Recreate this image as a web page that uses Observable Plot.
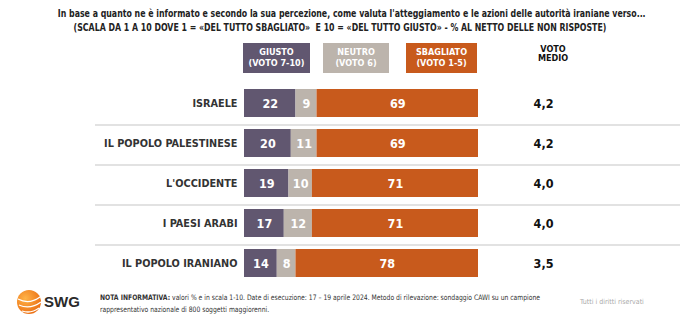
<!DOCTYPE html>
<html><head><meta charset="utf-8">
<script src="https://cdn.jsdelivr.net/npm/d3@7"></script>
<script src="https://cdn.jsdelivr.net/npm/@observablehq/plot@0.6"></script>
<style>
body{margin:0;width:680px;height:322px;background:#fff;position:relative;overflow:hidden;font-family:"DejaVu Sans Condensed","Liberation Sans",sans-serif;}
.title{position:absolute;left:0;width:680px;text-align:center;font-weight:bold;font-size:10.5px;color:#222;line-height:13px;white-space:nowrap;transform:scaleX(0.83);transform-origin:340px 0;}
.hbox{position:absolute;top:43px;height:30px;color:#fff;font-weight:bold;font-size:9px;line-height:11px;text-align:center;display:flex;align-items:center;justify-content:center;}
#chart{position:absolute;left:0;top:76px;}
.medio{position:absolute;left:520px;width:66px;top:45px;text-align:center;font-weight:bold;font-size:9px;line-height:8.5px;color:#111;}
.nota{position:absolute;left:100px;top:292px;font-size:7.5px;line-height:11.5px;color:#333;white-space:nowrap;transform:scaleX(0.9);transform-origin:0 0;}
.rights{position:absolute;left:580px;top:298px;font-size:7px;color:#aaa;}
.swg{position:absolute;left:44px;top:293px;font-weight:bold;font-size:15px;color:#2a2a2a;font-family:"Liberation Sans",sans-serif;}
</style></head>
<body>
<div class="title" style="top:7px">In base a quanto ne è informato e secondo la sua percezione, come valuta l'atteggiamento e le azioni delle autorità iraniane verso...</div>
<div class="title" style="top:21px">(SCALA DA 1 A 10 DOVE 1 = «DEL TUTTO SBAGLIATO»&nbsp; E 10 = «DEL TUTTO GIUSTO» - % AL NETTO DELLE NON RISPOSTE)</div>
<div id="legend"></div>
<div class="medio">VOTO<br>MEDIO</div>
<div id="chart"></div>
<svg style="position:absolute;left:16px;top:289px" width="26" height="26" viewBox="0 0 26 26">
<defs><radialGradient id="g" cx="0.35" cy="0.35" r="0.8"><stop offset="0" stop-color="#ffb347"/><stop offset="1" stop-color="#e8650c"/></radialGradient></defs>
<circle cx="13" cy="13" r="12" fill="url(#g)"/>
<path d="M2 10 Q13 16 24 8 M3 16 Q14 21 25 13 M6 22 Q15 25 23 19" stroke="#fff" stroke-width="1.3" fill="none"/>
</svg>
<div class="swg">SWG</div>
<div class="nota"><b>NOTA INFORMATIVA:</b> valori % e in scala 1-10. Date di esecuzione: 17 – 19 aprile 2024. Metodo di rilevazione: sondaggio CAWI su un campione<br>rappresentativo nazionale di 800 soggetti maggiorenni.</div>
<div class="rights">Tutti i diritti riservati</div>
<script>
const categories = ["ISRAELE","IL POPOLO PALESTINESE","L'OCCIDENTE","I PAESI ARABI","IL POPOLO IRANIANO"];
const giusto = [22,20,19,17,14];
const neutro = [9,11,10,12,8];
const sbagliato = [69,69,71,71,78];
const votoMedio = ["4,2","4,2","4,0","4,0","3,5"];
const seriesNames = ["GIUSTO\n(VOTO 7-10)","NEUTRO\n(VOTO 6)","SBAGLIATO\n(VOTO 1-5)"];
const colors = ["#615770","#bcb4ac","#c85a1c"];

// legend boxes
const boxPos = [[243,67],[323,66],[406,71]];
const leg = document.getElementById("legend");
seriesNames.forEach((s,i)=>{
  const d=document.createElement("div");d.className="hbox";
  d.style.left=boxPos[i][0]+"px";d.style.width=boxPos[i][1]+"px";d.style.background=colors[i];
  d.innerHTML=s.replace("\n","<br>");leg.appendChild(d);
});

const data = [];
categories.forEach((c,i)=>{
  data.push({cat:c, series:seriesNames[0], value:giusto[i]});
  data.push({cat:c, series:seriesNames[1], value:neutro[i]});
  data.push({cat:c, series:seriesNames[2], value:sbagliato[i]});
});
const medio = categories.map((c,i)=>({cat:c, v:votoMedio[i]}));
const step = 42.75;
const chart = Plot.plot({
  width:680, height:214, marginLeft:244, marginRight:202, marginTop:0, marginBottom:0,
  style:{fontFamily:'"DejaVu Sans Condensed","Liberation Sans",sans-serif'},
  x:{domain:[0,100], axis:null},
  y:{domain:categories, axis:null, padding:0.3},
  color:{domain:seriesNames, range:colors},
  marks:[
    Plot.ruleY(categories.slice(0,-1), {dy: step/2, stroke:"#d9d9d9", strokeWidth:1.5, insetLeft:-149, insetRight:-202}),
    Plot.barX(data, Plot.stackX({x:"value", y:"cat", fill:"series", order:seriesNames})),
    Plot.text(data, Plot.stackX({x:"value", y:"cat", z:"series", order:seriesNames, text:d=>String(d.value), fill:"#fff", fontWeight:"bold", fontSize:12.5})),
    Plot.text(categories, {x:0, y:d=>d, text:d=>d, textAnchor:"end", dx:-7, fontWeight:"bold", fontSize:10.8, fill:"#333"}),
    Plot.text(medio, {y:"cat", text:"v", frameAnchor:"right", dx:75, fontWeight:"bold", fontSize:12.5, fill:"#111"})
  ]
});
document.getElementById("chart").appendChild(chart);
</script>
</body></html>
